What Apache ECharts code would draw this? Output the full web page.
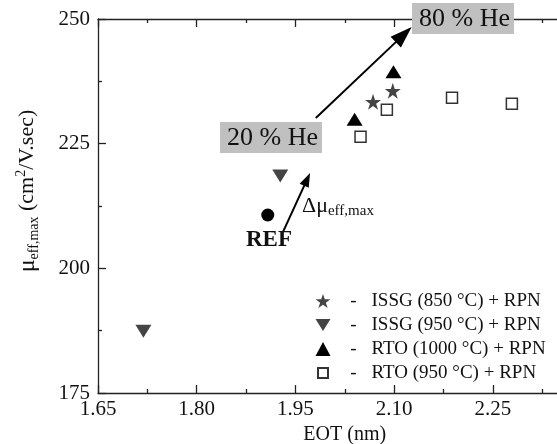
<!DOCTYPE html>
<html>
<head>
<meta charset="utf-8">
<script src="https://cdn.jsdelivr.net/npm/echarts@6/dist/echarts.min.js"></script>
<style>html,body{margin:0;padding:0;background:#fff}#c{width:557px;height:444px}</style>
</head>
<body>
<div id="c"></div>
<script>
// ---- data ----
const seriesNames = ['ISSG (850 °C) + RPN', 'ISSG (950 °C) + RPN', 'RTO (1000 °C) + RPN', 'RTO (950 °C) + RPN'];
const issg850 = [[2.068, 233.4], [2.098, 235.6]];
const issg950 = [[1.719, 187.4], [1.927, 218.5]];
const rto1000 = [[2.040, 229.9], [2.099, 239.4]];
const rto950 = [[2.049, 226.4], [2.089, 231.8], [2.188, 234.2], [2.279, 233.0]];
const refPoint = [[1.908, 210.7]];
const xTicks = [1.65, 1.80, 1.95, 2.10, 2.25];
const yTicks = [175, 200, 225, 250];
// annotation arrows (data coordinates)
const bigArrow = [[1.981, 230.15], [2.1146, 246.87]];
const smallArrow = [[1.9312, 207.3], [1.9678, 217.84]];

const FONT = "'Liberation Serif','Times New Roman',serif";
const starPath = 'path://M50,0 L61.8,35.1 L98.6,35.1 L68.8,56.7 L80.3,91.9 L50,70.2 L19.7,91.9 L31.2,56.7 L1.4,35.1 L38.2,35.1 Z';
const downTriPath = 'path://M0,0 L16,0 L8,13 Z';
const smallSquarePath = 'path://M0,0 L0,0 M14,14 L14,14 M2,2 L12,2 L12,12 L2,12 Z';

const chart = echarts.init(document.getElementById('c'));
const axisLine = {lineStyle: {color: '#222', width: 1.3}};
const option = {
  animation: false,
  backgroundColor: '#fff',
  grid: {left: 98, top: 19, bottom: 51, right: -34.5, containLabel: false, outerBoundsMode: 'none'},
  xAxis: [{
    type: 'value', min: 1.65, max: 2.40, interval: 0.15,
    name: 'EOT (nm)', nameLocation: 'middle', nameGap: 27,
    nameTextStyle: {fontFamily: FONT, fontSize: 20, color: '#111'},
    axisLine: axisLine,
    axisTick: {inside: true, length: 8, lineStyle: {color: '#222', width: 1.3}},
    minorTick: {show: true, splitNumber: 2, length: 4, lineStyle: {color: '#222', width: 1.3}},
    splitLine: {show: false},
    axisLabel: {fontFamily: FONT, fontSize: 21, color: '#111', margin: 6,
      formatter: v => xTicks.some(t => Math.abs(t - v) < 1e-6) ? v.toFixed(2) : ''}
  }, {
    type: 'value', position: 'top', min: 1.65, max: 2.40, interval: 0.15,
    axisLine: axisLine,
    axisTick: {inside: true, length: 8, lineStyle: {color: '#222', width: 1.3}},
    minorTick: {show: true, splitNumber: 2, length: 4, lineStyle: {color: '#222', width: 1.3}},
    splitLine: {show: false}, axisLabel: {show: false}
  }],
  yAxis: {
    type: 'value', min: 175, max: 250, interval: 25,
    name: '{m|μ}{s|eff,max}{n| (cm}{p|2}{n|/V.sec)}',
    nameLocation: 'middle', nameGap: 57, nameRotate: 90,
    nameTextStyle: {fontFamily: FONT, color: '#111', padding: [0, 0, 0, 30],
      rich: {
        m: {fontFamily: FONT, fontSize: 24, color: '#111'},
        n: {fontFamily: FONT, fontSize: 22, color: '#111'},
        s: {fontFamily: FONT, fontSize: 14, color: '#111', padding: [13, 0, 0, 0]},
        p: {fontFamily: FONT, fontSize: 14, color: '#111', padding: [0, 0, 13, 0]}
      }},
    axisLine: axisLine,
    axisTick: {inside: true, length: 8, lineStyle: {color: '#222', width: 1.3}},
    minorTick: {show: true, splitNumber: 2, length: 4, lineStyle: {color: '#222', width: 1.3}},
    splitLine: {show: false},
    axisLabel: {fontFamily: FONT, fontSize: 21, color: '#111', margin: 8,
      formatter: v => yTicks.includes(v) ? String(v) : ''}
  },
  legend: {
    orient: 'vertical', left: 310, top: 284,
    itemWidth: 15, itemHeight: 14, itemGap: 0,
    data: [
      {name: seriesNames[0]},
      {name: seriesNames[1], icon: downTriPath},
      {name: seriesNames[2]},
      {name: seriesNames[3], icon: smallSquarePath}
    ],
    formatter: name => '{d|-}{t|' + name + '}',
    textStyle: {fontFamily: FONT, fontSize: 19, color: '#111', lineHeight: 24,
      rich: {
        d: {width: 36, align: 'center', fontFamily: FONT, fontSize: 19, color: '#111'},
        t: {fontFamily: FONT, fontSize: 19, color: '#111'}
      }}
  },
  series: [
    {name: seriesNames[0], type: 'scatter', data: issg850, symbol: starPath, symbolSize: 16,
      itemStyle: {color: '#444', opacity: 1}},
    {name: seriesNames[1], type: 'scatter', data: issg950, symbol: 'triangle', symbolRotate: 180,
      symbolSize: [16, 13], itemStyle: {color: '#444', opacity: 1}},
    {name: seriesNames[2], type: 'scatter', data: rto1000, symbol: 'triangle',
      symbolSize: [16, 13], itemStyle: {color: '#000', opacity: 1}},
    {name: seriesNames[3], type: 'scatter', data: rto950, symbol: 'rect', symbolSize: 11,
      itemStyle: {color: '#fff', borderColor: '#333', borderWidth: 1.5, opacity: 1}},
    {name: 'REF', type: 'scatter', data: refPoint, symbol: 'circle', symbolSize: 13,
      itemStyle: {color: '#000', opacity: 1},
      markLine: {silent: true, symbol: ['none', 'triangle'], symbolSize: [15, 22],
        label: {show: false}, lineStyle: {color: '#000', width: 2, type: 'solid', opacity: 1},
        data: [[{coord: bigArrow[0]}, {coord: bigArrow[1]}]]}},
    {name: 'arrow2', type: 'scatter', data: [],
      markLine: {silent: true, symbol: ['none', 'triangle'], symbolSize: [10, 14],
        label: {show: false}, lineStyle: {color: '#000', width: 2, type: 'solid', opacity: 1},
        itemStyle: {color: '#000'},
        data: [[{coord: smallArrow[0]}, {coord: smallArrow[1]}]]}}
  ],
  graphic: [
    {type: 'text', left: 412, top: 3, z: 10,
      style: {text: '80 % He', fontFamily: FONT, fontSize: 26, fill: '#111',
        backgroundColor: '#c0c0c0', padding: [1, 4, 0, 7], lineHeight: 30}},
    {type: 'text', left: 220, top: 122, z: 10,
      style: {text: '20 % He', fontFamily: FONT, fontSize: 26, fill: '#111',
        backgroundColor: '#c0c0c0', padding: [1, 4, 0, 7], lineHeight: 30}},
    {type: 'text', left: 246, top: 229, z: 10,
      style: {text: 'REF', fontFamily: FONT, fontSize: 23, fontWeight: 'bold', fill: '#111'}},
    {type: 'text', left: 302, top: 195, z: 10,
      style: {text: '{a|Δμ}{b|eff,max}', fill: '#111',
        rich: {a: {fontFamily: FONT, fontSize: 22, fill: '#111'},
               b: {fontFamily: FONT, fontSize: 15, fill: '#111', padding: [10, 0, 0, 0]}}}}
  ]
};
chart.setOption(option);
</script>
</body>
</html>
